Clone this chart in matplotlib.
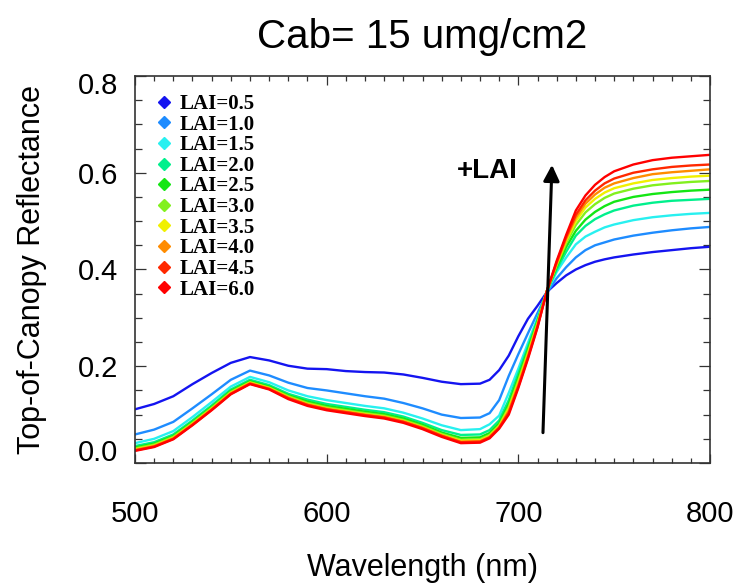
import matplotlib
matplotlib.use("Agg")
import matplotlib.pyplot as plt
from matplotlib.ticker import MultipleLocator

plt.rcParams['font.family'] = ['Liberation Sans', 'DejaVu Sans']

# wavelength grid (nm) and canopy reflectance per LAI
wavelength = [500, 510, 520, 530, 540, 550, 560, 570, 580, 590, 600, 610, 620, 630, 640,
              650, 660, 670, 680, 685, 690, 695, 700, 705, 710, 715, 720, 725, 730, 735,
              740, 745, 750, 760, 770, 780, 790, 800]

lai_05 = [.111, .122, .138, .163, .186, .207, .219, .212, .201, .195, .194, .190, .188, .187, .183,
          .176, .168, .163, .164, .172, .192, .222, .262, .298, .325, .354, .372, .388, .400, .409,
          .416, .421, .425, .431, .436, .440, .444, .447]
lai_10 = [.059, .069, .085, .113, .142, .172, .191, .181, .166, .155, .150, .144, .138, .133, .124,
          .113, .100, .093, .094, .103, .130, .180, .225, .268, .310, .352, .382, .405, .425, .440,
          .450, .456, .462, .470, .476, .481, .485, .488]
lai_15 = [.041, .050, .066, .095, .126, .158, .178, .167, .150, .138, .130, .124, .118, .113, .104,
          .092, .078, .068, .070, .080, .098, .145, .195, .248, .300, .355, .395, .425, .452, .468,
          .478, .487, .493, .502, .508, .512, .515, .517]
lai_20 = [.035, .043, .059, .088, .119, .152, .172, .161, .143, .131, .122, .116, .110, .105, .096,
          .083, .068, .058, .059, .068, .088, .130, .185, .240, .296, .356, .400, .437, .470, .490,
          .504, .514, .522, .532, .538, .542, .544, .546]
lai_25 = [.032, .040, .056, .085, .116, .149, .169, .158, .140, .127, .118, .112, .106, .101, .092,
          .079, .063, .052, .053, .062, .082, .122, .177, .234, .293, .357, .405, .447, .480, .503,
          .519, .531, .540, .550, .556, .560, .563, .565]
lai_30 = [.030, .038, .054, .083, .114, .147, .167, .156, .138, .124, .115, .109, .103, .098, .089,
          .076, .060, .048, .049, .058, .078, .116, .171, .229, .290, .357, .409, .455, .492, .518,
          .535, .548, .557, .567, .574, .578, .581, .583]
lai_35 = [.028, .036, .052, .081, .112, .145, .166, .155, .136, .122, .113, .107, .101, .096, .087,
          .074, .058, .046, .047, .056, .076, .112, .166, .225, .287, .357, .411, .460, .500, .528,
          .546, .559, .568, .578, .585, .589, .592, .594]
lai_40 = [.027, .035, .051, .080, .111, .144, .165, .154, .135, .121, .112, .106, .100, .095, .086,
          .073, .057, .044, .045, .054, .074, .108, .162, .221, .285, .357, .413, .464, .507, .536,
          .555, .569, .578, .589, .597, .601, .604, .607]
lai_45 = [.026, .034, .050, .079, .110, .143, .164, .153, .134, .120, .111, .105, .099, .094, .085,
          .072, .056, .043, .044, .053, .073, .104, .158, .218, .282, .357, .415, .468, .513, .543,
          .563, .578, .588, .600, .607, .612, .615, .617]
lai_60 = [.025, .033, .049, .078, .109, .142, .163, .152, .132, .118, .109, .103, .097, .092, .083,
          .070, .054, .041, .042, .051, .071, .100, .155, .215, .280, .357, .418, .472, .522, .553,
          .575, .591, .603, .617, .626, .631, .634, .637]

series = [lai_05, lai_10, lai_15, lai_20, lai_25, lai_30, lai_35, lai_40, lai_45, lai_60]
labels = ['LAI=0.5', 'LAI=1.0', 'LAI=1.5', 'LAI=2.0', 'LAI=2.5',
          'LAI=3.0', 'LAI=3.5', 'LAI=4.0', 'LAI=4.5', 'LAI=6.0']
colors = ['#1414f0', '#1e8cff', '#28f0f0', '#00f08c', '#14e614',
          '#82f01e', '#f0f000', '#ff8c00', '#ff2800', '#ff0000']

fig = plt.figure(figsize=(7.4, 5.84), dpi=100)
ax = fig.add_axes([0.1824, 0.2072, 0.7771, 0.6627])

for y, lab, c in zip(series, labels, colors):
    ax.plot(wavelength, y, color=c, lw=1.7, label=lab)

ax.set_xlim(500, 800)
ax.set_ylim(0, 0.8)

ax.xaxis.set_major_locator(MultipleLocator(100))
ax.xaxis.set_minor_locator(MultipleLocator(10))
ax.yaxis.set_major_locator(MultipleLocator(0.2))
ax.yaxis.set_minor_locator(MultipleLocator(0.05))
ax.tick_params(which='both', direction='in', top=True, right=True, width=0.9, color='#333333')
ax.tick_params(axis='x', which='major', length=6.5, pad=27, labelsize=21)
ax.tick_params(axis='x', which='minor', length=3.5)
ax.tick_params(axis='y', which='major', length=8, pad=12, labelsize=21)
ax.tick_params(axis='y', which='minor', length=5)
ax.set_yticks([0, 0.2, 0.4, 0.6, 0.8])
ax.set_yticklabels(['', '0.2', '0.4', '0.6', ''])
for sp in ax.spines.values():
    sp.set_color('#333333')
    sp.set_linewidth(1.2)

# edge labels sit inside the axis range in the original
ax.annotate('0.0', xy=(0, 0), xycoords=('axes fraction', 'data'), xytext=(-12, 7),
            textcoords='offset points', ha='right', va='center', fontsize=21)
ax.annotate('0.8', xy=(0, 0.8), xycoords=('axes fraction', 'data'), xytext=(-12, -7),
            textcoords='offset points', ha='right', va='center', fontsize=21)

ax.set_title('Cab= 15 umg/cm2', fontsize=29, pad=20)
ax.set_xlabel('Wavelength (nm)', fontsize=22, labelpad=18)
ax.set_ylabel('Top-of-Canopy Reflectance', fontsize=22, labelpad=22)

leg = ax.legend(loc='upper left', bbox_to_anchor=(0.025, 0.975), frameon=False,
                handlelength=0.6, handletextpad=0.45, labelspacing=0.03, borderaxespad=0,
                prop={'family': 'Liberation Serif', 'size': 15, 'weight': 'bold'})
for h, c in zip(leg.legend_handles, colors):
    h.set_linestyle('none')
    h.set_marker('D')
    h.set_markersize(6)
    h.set_markerfacecolor(c)
    h.set_markeredgecolor(c)

ax.annotate('', xy=(717.6, 0.622), xytext=(712.8, 0.057),
            arrowprops=dict(arrowstyle='-|>', lw=2.2, color='black', mutation_scale=24))
ax.text(684, 0.604, '+LAI', fontsize=20, fontweight='bold', ha='center', va='center')

fig.savefig('out.png', dpi=100)
